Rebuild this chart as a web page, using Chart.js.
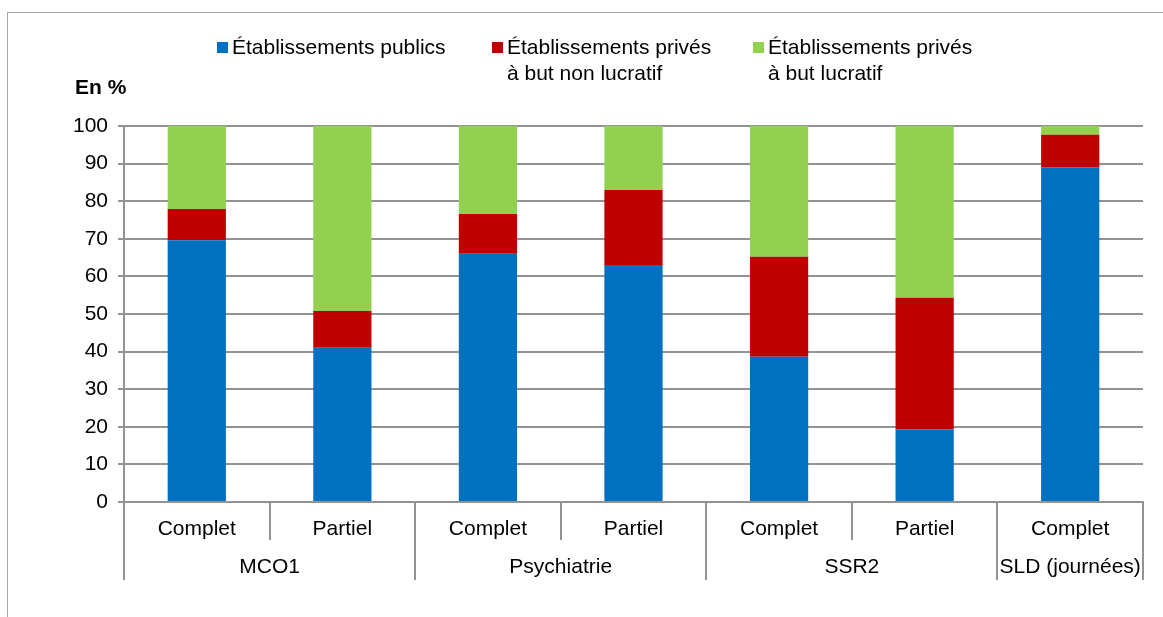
<!DOCTYPE html>
<html>
<head>
<meta charset="utf-8">
<script src="https://cdn.jsdelivr.net/npm/chart.js@4.4.1/dist/chart.umd.min.js"></script>
<style>
  html, body { margin: 0; padding: 0; background: #fff; }
  #wrap { position: relative; width: 1163px; height: 617px; }
</style>
</head>
<body>
<div id="wrap"><canvas id="chart" width="1163" height="617"></canvas></div>
<script>
// sous-catégories (axe x) et regroupements
const categories = ["Complet", "Partiel", "Complet", "Partiel", "Complet", "Partiel", "Complet"];
const groupNames = ["MCO1", "Psychiatrie", "SSR2", "SLD (journées)"];
const groupSizes = [2, 2, 2, 1];

// séries, en %
const seriesNames = [
    ["Établissements publics"],
    ["Établissements privés", "à but non lucratif"],
    ["Établissements privés", "à but lucratif"]
];
const publics = [69.6, 41.0, 66.0, 63.0, 38.6, 19.3, 89.0];
const privesNonLucratif = [8.3, 9.8, 10.6, 20.0, 26.6, 35.0, 8.7];
const privesLucratif = [22.1, 49.2, 23.4, 17.0, 34.8, 45.7, 2.3];

const yTicks = [0, 10, 20, 30, 40, 50, 60, 70, 80, 90, 100];

const colors = ["#0070c0", "#c00000", "#92d050"];
const gridColor = "#939393";
const FONT = "Liberation Sans, Arial, sans-serif";
const FSIZE = 21;

const decor = {
    id: "decor",
    beforeDraw(chart) {
        const c = chart.ctx;
        c.save();
        c.strokeStyle = "#a6a6a6";
        c.lineWidth = 1;
        c.strokeRect(7.5, 12.5, 1300, 800);
        c.restore();
    },
    afterDraw(chart) {
        const c = chart.ctx;
        const area = chart.chartArea;
        const xs = chart.scales.x;
        c.save();

        // légende
        const legendX = [217, 492, 753];
        c.font = FSIZE + "px " + FONT;
        c.textBaseline = "middle";
        c.textAlign = "left";
        chart.data.datasets.forEach((ds, i) => {
            c.fillStyle = ds.backgroundColor;
            c.fillRect(legendX[i], 42, 11, 11);
            c.fillStyle = "#000";
            seriesNames[i].forEach((line, j) => {
                c.fillText(line, legendX[i] + 15, 48 + j * 26);
            });
        });

        // unité
        c.font = "bold " + FSIZE + "px " + FONT;
        c.fillText("En %", 75, 88);

        // séparateurs de l'axe x
        const mid = i => (xs.getPixelForValue(i) + xs.getPixelForValue(i + 1)) / 2;
        c.strokeStyle = gridColor;
        c.lineWidth = 2;
        const vline = (x, len) => {
            x = Math.round(x);
            c.beginPath();
            c.moveTo(x, area.bottom);
            c.lineTo(x, area.bottom + len);
            c.stroke();
        };
        vline(area.left, 78);
        let idx = 0;
        c.font = FSIZE + "px " + FONT;
        c.fillStyle = "#000";
        c.textAlign = "center";
        groupSizes.forEach((n, g) => {
            const start = idx === 0 ? area.left : mid(idx - 1);
            for (let k = idx; k < idx + n - 1; k++) vline(mid(k), 38);
            idx += n;
            const end = idx >= categories.length ? area.right : mid(idx - 1);
            vline(end, 78);
            c.fillText(groupNames[g], (start + end) / 2, area.bottom + 65);
        });
        c.restore();
    }
};

new Chart(document.getElementById("chart"), {
    type: "bar",
    data: {
        labels: categories,
        datasets: [
            { label: seriesNames[0].join(" "), data: publics, backgroundColor: colors[0] },
            { label: seriesNames[1].join(" "), data: privesNonLucratif, backgroundColor: colors[1] },
            { label: seriesNames[2].join(" "), data: privesLucratif, backgroundColor: colors[2] }
        ]
    },
    options: {
        responsive: false,
        animation: false,
        datasets: { bar: { barPercentage: 0.4, categoryPercentage: 1.0, borderWidth: 0 } },
        layout: { padding: { top: 126, right: 20, left: 0, bottom: 0 } },
        plugins: { legend: { display: false }, tooltip: { enabled: false }, title: { display: false } },
        scales: {
            x: {
                stacked: true,
                afterFit: s => { s.height = 115; },
                grid: { display: false, drawTicks: false },
                border: { color: gridColor, width: 2 },
                ticks: { color: "#000", padding: 15, maxRotation: 0, font: { size: FSIZE, family: FONT } }
            },
            y: {
                stacked: true,
                min: 0,
                max: 100,
                afterFit: s => { s.width = 124; },
                afterBuildTicks: s => { s.ticks = yTicks.map(v => ({ value: v })); },
                grid: { color: gridColor, lineWidth: 2, tickLength: 6 },
                border: { color: gridColor, width: 2 },
                ticks: { color: "#000", padding: 10, font: { size: FSIZE, family: FONT } }
            }
        }
    },
    plugins: [decor]
});
</script>
</body>
</html>
